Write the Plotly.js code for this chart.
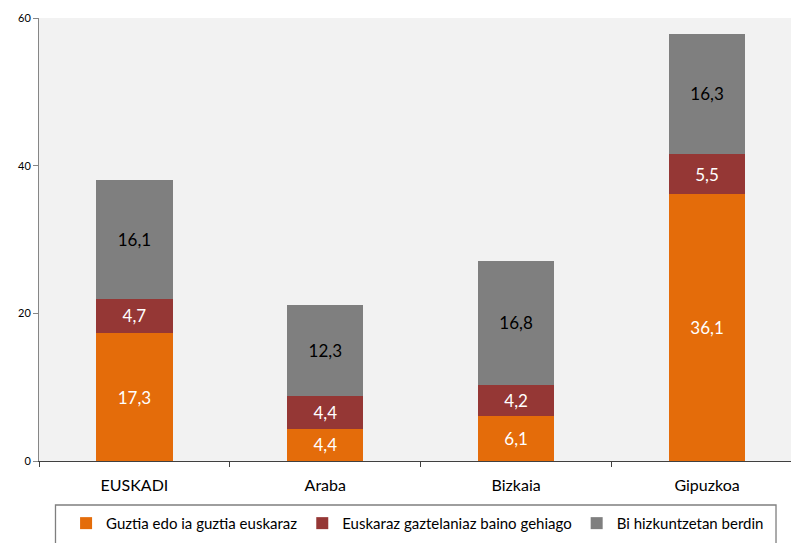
<!DOCTYPE html>
<html>
<head>
<meta charset="utf-8">
<script src="https://cdn.plot.ly/plotly-3.0.1.min.js"></script>
<style>
html,body{margin:0;padding:0;background:#fff;overflow:hidden;}
#chart{width:791px;height:543px;}
</style>
</head>
<body>
<div id="chart"></div>
<script>
const categories = ["EUSKADI", "Araba", "Bizkaia", "Gipuzkoa"];
const seriesNames = ["Guztia edo ia guztia euskaraz", "Euskaraz gaztelaniaz baino gehiago", "Bi hizkuntzetan berdin"];
const guztia = [17.3, 4.4, 6.1, 36.1];
const gehiago = [4.7, 4.4, 4.2, 5.5];
const berdin = [16.1, 12.3, 16.8, 16.3];
const yTicks = [0, 20, 40, 60];

const colors = ["#E46C0A", "#953735", "#7F7F7F"];
const labelColors = ["#ffffff", "#ffffff", "#000000"];
const fontFam = "Lato, 'Noto Sans', sans-serif";

const fmt = v => v.toFixed(1).replace(".", ",");

const traces = [guztia, gehiago, berdin].map((vals, i) => ({
  type: "bar",
  name: seriesNames[i],
  x: categories,
  y: vals,
  text: vals.map(fmt),
  textposition: "inside",
  insidetextanchor: "middle",
  textangle: 0,
  constraintext: "none",
  textfont: {family: fontFam, size: 17, color: labelColors[i]},
  marker: {color: colors[i], line: {width: 0}},
  hoverinfo: "skip"
}));

const layout = {
  width: 791,
  height: 543,
  margin: {l: 38.5, r: 0, t: 18, b: 82, autoexpand: false},
  paper_bgcolor: "#ffffff",
  plot_bgcolor: "#F2F2F2",
  barmode: "stack",
  bargap: 0.6,
  showlegend: true,
  legend: {
    orientation: "h",
    xref: "paper",
    x: 0.036,
    xanchor: "left",
    yref: "container",
    y: 0.0665,
    yanchor: "top",
    font: {family: fontFam, size: 15, color: "#000000"},
    bgcolor: "rgba(0,0,0,0)",
    borderwidth: 0,
    itemwidth: 30,
    traceorder: "normal"
  },
  xaxis: {
    type: "category",
    range: [-0.5, 3.44],
    tickson: "boundaries",
    ticks: "outside",
    ticklen: 5,
    tickcolor: "#404040",
    showline: true,
    linecolor: "#404040",
    linewidth: 1,
    showgrid: false,
    zeroline: false,
    ticklabelstandoff: 10,
    tickfont: {family: fontFam, size: 16, color: "#000000"},
    fixedrange: true
  },
  yaxis: {
    range: [0, 60],
    tickvals: yTicks,
    ticktext: yTicks.map(String),
    ticks: "outside",
    ticklen: 5,
    tickcolor: "#868686",
    showline: true,
    linecolor: "#868686",
    linewidth: 1,
    showgrid: false,
    zeroline: false,
    tickfont: {family: fontFam, size: 11, color: "#000000"},
    fixedrange: true
  },
  shapes: [{
    type: "rect",
    xref: "paper", yref: "paper",
    x0: (55 - 38.5) / 752.5, x1: (776 - 38.5) / 752.5,
    y0: -(548 - 461) / 443, y1: -(505 - 461) / 443,
    line: {color: "#7F7F7F", width: 1.3},
    fillcolor: "rgba(0,0,0,0)",
    layer: "above"
  }]
};

Plotly.newPlot("chart", traces, layout, {displayModeBar: false, staticPlot: true});
</script>
</body>
</html>
